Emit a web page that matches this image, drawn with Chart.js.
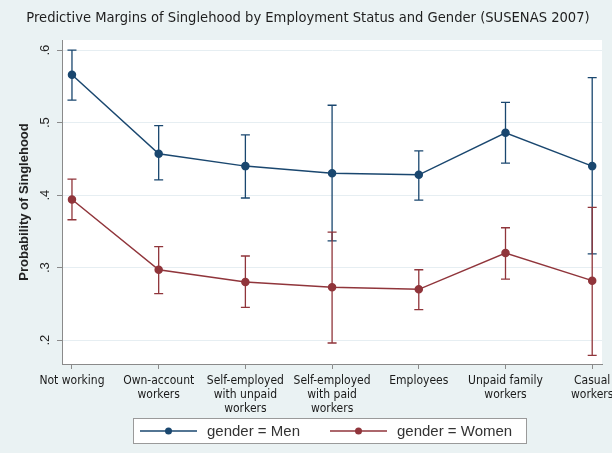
<!DOCTYPE html>
<html><head><meta charset="utf-8">
<script src="https://cdn.jsdelivr.net/npm/chart.js@4"></script>
<style>html,body{margin:0;padding:0;background:#eaf2f3;} canvas{display:block;}</style>
</head><body>
<canvas id="c" width="612" height="453"></canvas>
<script>
const chartTitle = "Predictive Margins of Singlehood by Employment Status and Gender (SUSENAS 2007)";
const yAxisTitle = "Probability of Singlehood";
const categories = [
  ["Not working"],
  ["Own-account", "workers"],
  ["Self-employed", "with unpaid", "workers"],
  ["Self-employed", "with paid", "workers"],
  ["Employees"],
  ["Unpaid family", "workers"],
  ["Casual", "workers"]
];
const yTickValues = [0.2, 0.3, 0.4, 0.5, 0.6];
const yTickLabels = [".2", ".3", ".4", ".5", ".6"];
const seriesLabels = ["gender = Men", "gender = Women"];
const menMargin = [0.566, 0.457, 0.440, 0.430, 0.428, 0.486, 0.440];
const menLower  = [0.531, 0.421, 0.396, 0.337, 0.393, 0.444, 0.319];
const menUpper  = [0.600, 0.496, 0.483, 0.524, 0.461, 0.528, 0.562];
const womenMargin = [0.394, 0.297, 0.280, 0.273, 0.270, 0.320, 0.282];
const womenLower  = [0.366, 0.264, 0.245, 0.196, 0.242, 0.284, 0.179];
const womenUpper  = [0.422, 0.329, 0.316, 0.349, 0.297, 0.355, 0.383];

const NAVY = '#1a476f', MAROON = '#90353b';
const BG = '#eaf2f3';

const background = {
  id: 'background',
  beforeDraw(chart) {
    const {ctx, chartArea: a} = chart;
    ctx.save();
    ctx.fillStyle = BG;
    ctx.fillRect(0, 0, chart.width, chart.height);
    ctx.fillStyle = '#ffffff';
    ctx.fillRect(a.left, a.top, a.right - a.left, a.bottom - a.top);
    ctx.fillStyle = '#1e1e1e';
    ctx.font = '14.6px "DejaVu Sans Condensed"';
    ctx.textAlign = 'center';
    ctx.textBaseline = 'middle';
    ctx.fillText(chartTitle, 308, 18);
    ctx.restore();
  }
};

const errorBars = {
  id: 'errorBars',
  beforeDatasetsDraw(chart) {
    const {ctx, scales: {x, y}} = chart;
    chart.data.datasets.forEach(ds => {
      ctx.save();
      ctx.strokeStyle = ds.borderColor;
      ctx.lineWidth = 1.3;
      ds.ciLower.forEach((lo, i) => {
        const px = x.getPixelForValue(i);
        const p1 = y.getPixelForValue(lo);
        const p2 = y.getPixelForValue(ds.ciUpper[i]);
        ctx.beginPath();
        ctx.moveTo(px, p1); ctx.lineTo(px, p2);
        ctx.moveTo(px - 4.5, p1); ctx.lineTo(px + 4.5, p1);
        ctx.moveTo(px - 4.5, p2); ctx.lineTo(px + 4.5, p2);
        ctx.stroke();
      });
      ctx.restore();
    });
  }
};

const boxLegend = {
  id: 'boxLegend',
  afterDraw(chart) {
    const {ctx} = chart;
    const left = 133, right = 527, top = 418, bottom = 444;
    const cy = (top + bottom) / 2;
    ctx.save();
    ctx.fillStyle = '#ffffff';
    ctx.fillRect(left, top, right - left, bottom - top);
    ctx.strokeStyle = '#9a9a9a';
    ctx.lineWidth = 1;
    ctx.strokeRect(left + 0.5, top + 0.5, right - left - 1, bottom - top - 1);
    ctx.font = '15px "Liberation Sans"';
    ctx.textBaseline = 'middle';
    ctx.textAlign = 'left';
    const starts = [140, 330];
    chart.data.datasets.forEach((ds, k) => {
      const x0 = starts[k];
      ctx.strokeStyle = ds.borderColor;
      ctx.lineWidth = 1.5;
      ctx.beginPath(); ctx.moveTo(x0, cy); ctx.lineTo(x0 + 57, cy); ctx.stroke();
      ctx.fillStyle = ds.borderColor;
      ctx.beginPath(); ctx.arc(x0 + 28.5, cy, 3.5, 0, Math.PI * 2); ctx.fill();
      ctx.fillStyle = '#333333';
      ctx.fillText(ds.label, x0 + 67, cy + 1);
    });
    ctx.restore();
  }
};

new Chart(document.getElementById('c'), {
  type: 'line',
  data: {
    datasets: [
      {label: seriesLabels[0], data: menMargin.map((v, i) => ({x: i, y: v})), ciLower: menLower, ciUpper: menUpper,
       borderColor: NAVY, backgroundColor: NAVY, pointBackgroundColor: NAVY, pointBorderColor: NAVY,
       pointRadius: 3.5, borderWidth: 1.5, tension: 0},
      {label: seriesLabels[1], data: womenMargin.map((v, i) => ({x: i, y: v})), ciLower: womenLower, ciUpper: womenUpper,
       borderColor: MAROON, backgroundColor: MAROON, pointBackgroundColor: MAROON, pointBorderColor: MAROON,
       pointRadius: 3.5, borderWidth: 1.5, tension: 0}
    ]
  },
  options: {
    responsive: false,
    animation: false,
    layout: {padding: {top: 40, right: 10, bottom: 0, left: 0}},
    plugins: {legend: {display: false}, tooltip: {enabled: false}},
    scales: {
      x: {
        type: 'linear', min: -0.115, max: 6.113,
        afterBuildTicks: s => { s.ticks = categories.map((_, i) => ({value: i})); },
        afterFit: s => { s.height = 89; s.paddingLeft = 0; s.paddingRight = 0; },
        ticks: {autoSkip: false, maxRotation: 0, minRotation: 0, padding: 5, color: '#1a1a1a',
                font: {family: 'DejaVu Sans Condensed', size: 12, lineHeight: '14px'},
                callback: v => categories[v]},
        grid: {drawOnChartArea: false, tickLength: 5, tickColor: '#8a8a8a'},
        border: {color: '#8a8a8a', width: 1}
      },
      y: {
        min: 0.167, max: 0.614,
        afterBuildTicks: s => { s.ticks = yTickValues.map(v => ({value: v})); },
        afterFit: s => { s.width = 62; s.paddingTop = 0; s.paddingBottom = 0; },
        ticks: {minRotation: 90, maxRotation: 90, crossAlign: 'center', padding: 6, color: '#222',
                font: {family: 'Liberation Sans', size: 13},
                callback: (v, i) => yTickLabels[i]},
        grid: {color: '#e6eef2', tickLength: 5, tickColor: '#8a8a8a'},
        border: {color: '#8a8a8a', width: 1},
        title: {display: true, text: yAxisTitle, color: '#222',
                font: {family: 'Liberation Sans', size: 13, weight: 'bold'}, padding: {top: 17, bottom: 0}}
      }
    }
  },
  plugins: [background, errorBars, boxLegend]
});
</script>
</body></html>
